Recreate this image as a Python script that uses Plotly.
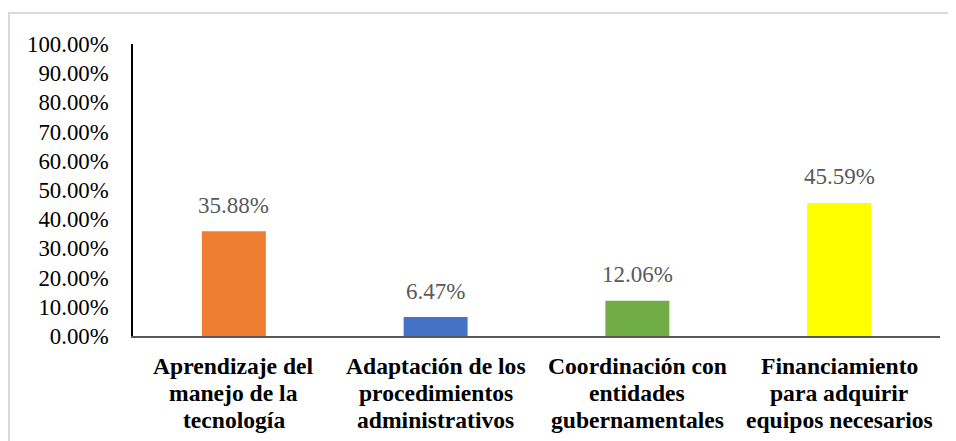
import plotly.graph_objects as go

categories = [
    "Aprendizaje del manejo de la tecnología",
    "Adaptación de los procedimientos administrativos",
    "Coordinación con entidades gubernamentales",
    "Financiamiento para adquirir equipos necesarios",
]
category_lines = [
    ["Aprendizaje del", "manejo de la", "tecnología"],
    ["Adaptación de los", "procedimientos", "administrativos"],
    ["Coordinación con", "entidades", "gubernamentales"],
    ["Financiamiento", "para adquirir", "equipos necesarios"],
]
values = [0.3588, 0.0647, 0.1206, 0.4559]
colors = ["#ED7D31", "#4472C4", "#70AD47", "#FFFF00"]
labels = ["35.88%", "6.47%", "12.06%", "45.59%"]

FONT = "Liberation Serif"

# page body has an 8px margin; compensate
W, H = 948, 433
L, T = 125, 36
R = W - 932
B = H - 328
pw, ph = W - L - R, H - T - B

fig = go.Figure(go.Bar(
    x=categories,
    y=values,
    marker=dict(color=colors, line=dict(width=0)),
    width=0.317,
    cliponaxis=False,
    hoverinfo="x+y",
))

ann = []
# data labels above bars
for c, v, t in zip(categories, values, labels):
    ann.append(dict(x=c, y=v, xref="x", yref="y", text=t, showarrow=False,
                    yanchor="middle", yshift=26,
                    font=dict(family=FONT, size=23, color="#595959")))
# category labels, one line each (tighter line spacing than plotly's default)
line_offsets = [30, 57, 84]  # px below the x axis
for c, lines in zip(categories, category_lines):
    for off, ln in zip(line_offsets, lines):
        ann.append(dict(x=c, y=-off / ph, xref="x", yref="paper", text=f"<b>{ln}</b>",
                        showarrow=False, yanchor="middle",
                        font=dict(family=FONT, size=23.6, color="black")))

fig.update_layout(
    width=W, height=H,
    margin=dict(l=L, r=R, t=T, b=B, pad=0),
    paper_bgcolor="white", plot_bgcolor="white",
    showlegend=False,
    font=dict(family=FONT, color="black", size=23),
    xaxis=dict(
        showline=True, linecolor="#595959", linewidth=2,
        showticklabels=False, ticks="", showgrid=False,
    ),
    yaxis=dict(
        range=[0, 1], dtick=0.1, tickformat=".2%",
        showline=True, linecolor="black", linewidth=1.5,
        showgrid=False, zeroline=False, ticks="",
        tickfont=dict(family=FONT, size=22.8, color="black"),
        ticklabelstandoff=18,
    ),
    annotations=ann,
    shapes=[dict(
        type="rect", xref="paper", yref="paper",
        x0=(1 - L) / pw, x1=(970 - L) / pw,
        y0=(H - B - 460) / ph, y1=(H - B - 5) / ph,
        line=dict(color="#D9D9D9", width=2), fillcolor="rgba(0,0,0,0)",
        layer="below",
    )],
)

fig.write_html("out.html")
